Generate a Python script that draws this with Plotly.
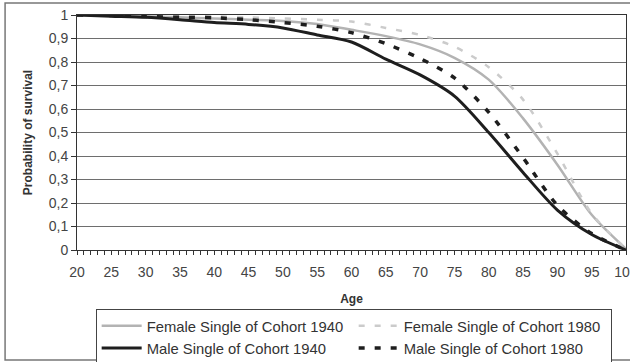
import plotly.graph_objects as go

# ── data ──────────────────────────────────────────────────────────────────────
AGES = [20, 25, 30, 35, 40, 45, 50, 55, 60, 65, 70, 75, 80, 85, 90, 95, 100]

FEMALE_1940 = [1.0, 0.998, 0.995, 0.99, 0.985, 0.98, 0.975, 0.962, 0.937, 0.91,
               0.875, 0.818, 0.725, 0.56, 0.363, 0.15, 0.005]
FEMALE_1980 = [1.0, 0.999, 0.998, 0.996, 0.994, 0.99, 0.985, 0.98, 0.972, 0.945,
               0.915, 0.865, 0.778, 0.64, 0.41, 0.155, 0.005]
MALE_1940 = [1.0, 0.995, 0.99, 0.98, 0.968, 0.96, 0.945, 0.915, 0.885, 0.812,
             0.745, 0.655, 0.5, 0.33, 0.17, 0.066, 0.0]
MALE_1980 = [1.0, 0.998, 0.994, 0.99, 0.988, 0.98, 0.968, 0.952, 0.925, 0.878,
             0.815, 0.732, 0.586, 0.393, 0.19, 0.07, 0.0]

Y_TICKS = [0, 0.1, 0.2, 0.3, 0.4, 0.5, 0.6, 0.7, 0.8, 0.9, 1]
Y_LABELS = ["0", "0,1", "0,2", "0,3", "0,4", "0,5", "0,6", "0,7", "0,8", "0,9", "1"]

SERIES = [
    ("Female Single of Cohort 1940", FEMALE_1940, "#b3b3b3", "solid", 2.5),
    ("Female Single of Cohort 1980", FEMALE_1980, "#cbcbcb", "6px,10px", 2.5),
    ("Male Single of Cohort 1940", MALE_1940, "#1e1e1e", "solid", 3),
    ("Male Single of Cohort 1980", MALE_1980, "#1e1e1e", "6px,10px", 3.5),
]

FONT = "Arial, 'Liberation Sans', sans-serif"
LINE_GREY = "#6e6e6e"

fig = go.Figure()
for name, vals, color, dash, width in SERIES:
    fig.add_trace(go.Scatter(
        x=AGES, y=vals, name=name, mode="lines",
        line=dict(color=color, dash=dash, width=width, shape="spline", smoothing=0.8),
    ))

fig.update_layout(
    width=630, height=362,
    margin=dict(l=77, r=4, t=15, b=112, autoexpand=False),
    plot_bgcolor="white", paper_bgcolor="white",
    font=dict(family=FONT, size=13, color="#444"),
    showlegend=True,
    legend=dict(
        orientation="h", x=0.034, xanchor="left", y=-0.25, yanchor="top",
        entrywidth=202, entrywidthmode="pixels",
        bordercolor="#444", borderwidth=1, bgcolor="white",
        font=dict(size=14.8, color="#333"),
        tracegroupgap=0, itemwidth=40,
    ),
    shapes=[dict(
        type="rect", xref="paper", yref="paper",
        x0=-0.131, x1=1.02, y0=-0.468, y1=1.051,
        line=dict(color="#777", width=1.5), layer="below",
    )],
)

fig.update_xaxes(
    range=[20, 100], dtick=5, tick0=20,
    showgrid=False, zeroline=False,
    showline=True, linecolor="#333", linewidth=1, mirror=True,
    ticks="outside", ticklen=4, tickcolor="#333",
    minor=dict(dtick=1, ticks="outside", ticklen=4, tickcolor="#333"),
    ticklabelstandoff=5, ticklabeloverflow="allow",
    tickfont=dict(size=14, color="#444"),
    title=dict(text="<b>Age</b>", font=dict(size=12, color="#333"), standoff=15),
)
fig.update_yaxes(
    range=[0, 1], tickvals=Y_TICKS, ticktext=Y_LABELS,
    showgrid=True, gridcolor=LINE_GREY, gridwidth=1, zeroline=False,
    showline=True, linecolor="#333", linewidth=1, mirror=True,
    ticks="outside", ticklen=5, tickcolor="#333",
    tickfont=dict(size=14, color="#444"),
    title=dict(text="<b>Probability of survival</b>", font=dict(size=12, color="#333"), standoff=13),
)

# the page body has an 8px margin by default; drop it so the figure sits at (0, 0)
fig.write_html("out.html", config={"displayModeBar": False},
               post_script="document.body.style.margin='0';")
